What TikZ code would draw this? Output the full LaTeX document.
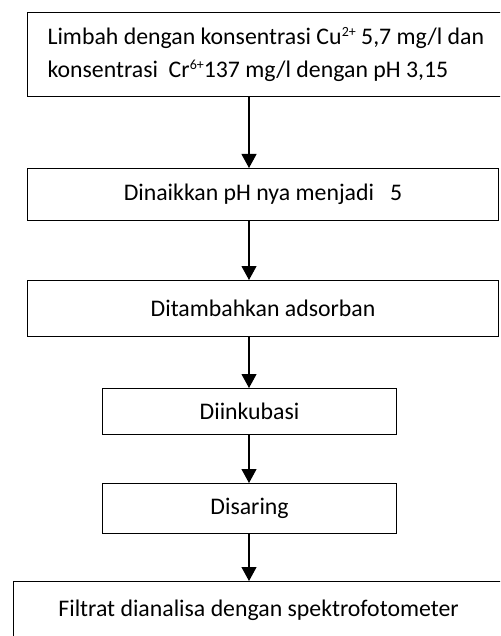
\documentclass[tikz,border=0pt]{standalone}
\usepackage{fontspec}
\setmainfont{Carlito}
\usetikzlibrary{arrows.meta}
\newcommand{\ion}[1]{\raisebox{8.5pt}{\fontsize{14}{14}\selectfont #1}}
\tikzset{langkah/.style={draw, line width=1.1pt, anchor=north west, inner sep=0pt,
    font=\fontsize{23.8}{33}\selectfont},
  panah/.style={line width=1.1pt, -{Triangle[length=14pt,width=15pt]}}}

\begin{document}
\begin{tikzpicture}[x=1pt,y=1pt]
  \useasboundingbox (0,0) rectangle (500,-636);
  \clip (0,0) rectangle (500,-636);
  \coordinate (poros) at (249,0);
  \node[langkah, minimum width=500pt, minimum height=84pt, text width=470pt, inner xsep=20pt, align=flush left] (limbah) at (27,-12)
    {Limbah dengan konsentrasi Cu\ion{2+} 5,7 mg/l dan\\konsentrasi \ Cr\ion{6+}137 mg/l dengan pH 3,15};
  \node[langkah, minimum width=471pt, minimum height=52pt] (ph) at (27,-168) {Dinaikkan pH nya menjadi \ \ 5};
  \node[langkah, minimum width=471pt, minimum height=56pt] (adsorban) at (27,-280) {Ditambahkan adsorban};
  \node[langkah, minimum width=294pt, minimum height=46pt] (inkubasi) at (102,-388) {Diinkubasi};
  \node[langkah, minimum width=294pt, minimum height=50pt] (saring) at (102,-483) {Disaring};
  \node[langkah, minimum width=490pt, minimum height=58pt] (filtrat) at (13,-581) {Filtrat dianalisa dengan spektrofotometer};
  % alur proses
  \draw[panah] (limbah.south -| poros) -- (ph.north -| poros);
  \draw[panah] (ph.south -| poros) -- (adsorban.north -| poros);
  \draw[panah] (adsorban.south -| poros) -- (inkubasi.north -| poros);
  \draw[panah] (inkubasi.south -| poros) -- (saring.north -| poros);
  \draw[panah] (saring.south -| poros) -- (filtrat.north -| poros);
\end{tikzpicture}
\end{document}
